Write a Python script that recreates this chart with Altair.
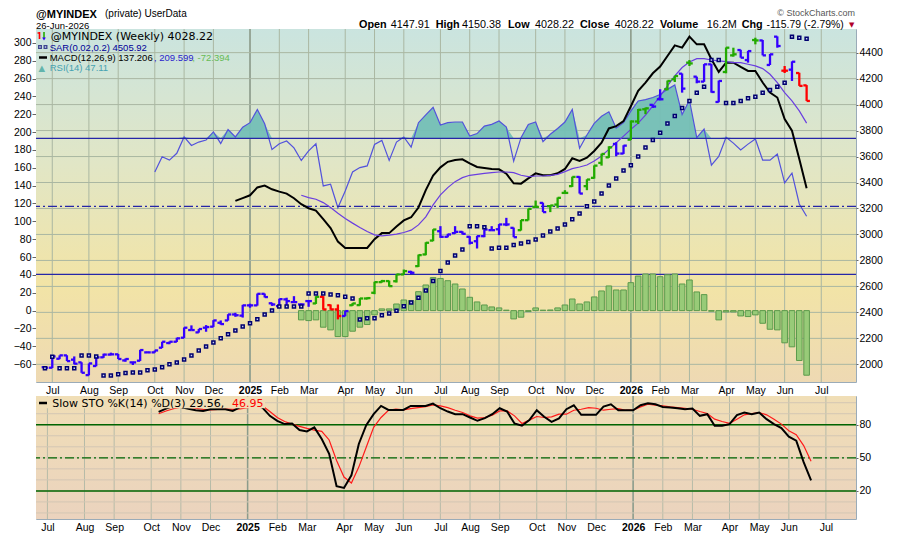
import altair as alt
import pandas as pd

# ---------------- data ----------------
week = list(range(105))
open_ = [1978,1974,2043,2069,2036,2015,1917,1987,2054,2075, 2077,2030,2015,2028,2092,2092,2128,2164,2174,2205,
         2264,2246,2282,2290,2320,2338,2384,2375,2454,2454, 2543,2470,2448,2500,2479,2461,2487,2469,2520,2456,
         2423,2372,2455,2456,2507,2551,2633,2641,2640,2692, 2712,2756,2846,2953,3025,2982,3010,3020,2982,2948,
         2987,3033,3040,3077,3051,3033,3110,3212,3243,3218, 3230,3320,3372,3443,3372,3436,3551,3594,3697,3623,
         3730,3870,3964,3998,4041,4118,4195,4238,4323,4215, 4177,4310,4020,4251,4379,4420,4343,4497,4494,4305,
         4523,4261,4269,4243,4148]
high = [1980,2063,2069,2070,2061,2016,2007,2069,2082,2090, 2080,2045,2020,2112,2098,2107,2174,2176,2205,2284,
        2300,2272,2302,2340,2338,2386,2397,2458,2467,2545, 2545,2475,2505,2513,2525,2469,2495,2525,2525,2461,
        2461,2412,2472,2510,2515,2636,2650,2645,2695,2730, 2720,2845,2940,3040,3064,3005,3064,3025,2987,2990,
        3040,3064,3080,3128,3053,3112,3199,3261,3245,3225, 3285,3341,3445,3448,3425,3532,3622,3679,3710,3687,
        3878,3966,3977,4000,4118,4185,4222,4240,4343,4215, 4312,4312,4185,4440,4438,4422,4414,4515,4497,4390,
        4525,4297,4333,4245,4150]
low = [1970,1972,2040,2025,2000,1935,1915,1985,2050,2070, 2041,2020,1995,2026,2088,2090,2126,2155,2172,2203,
       2262,2244,2251,2288,2305,2336,2366,2360,2436,2452, 2515,2450,2436,2436,2474,2436,2443,2465,2420,2420,
       2346,2370,2450,2452,2500,2540,2630,2598,2630,2690, 2695,2750,2840,2948,2974,2978,3005,3000,2923,2892,
       2979,3030,2995,3064,2979,3030,3108,3205,3172,3172, 3205,3315,3366,3315,3341,3430,3530,3590,3602,3620,
       3728,3850,3926,3975,4033,4110,4174,4092,4297,4164, 4175,4092,4018,4241,4369,4361,4323,4464,4379,4305,
       4438,4243,4182,4144,4028]
close = [1974,2061,2069,2025,2005,1935,2007,2054,2075,2077, 2041,2041,2015,2110,2092,2107,2174,2174,2200,2282,
         2264,2272,2287,2338,2310,2384,2378,2454,2454,2543, 2518,2461,2502,2487,2479,2461,2487,2520,2423,2423,
         2372,2410,2469,2507,2510,2633,2641,2602,2692,2718, 2705,2841,2936,3038,2982,3000,3020,3005,2936,2987,
         3038,3033,3077,3077,2979,3110,3197,3212,3172,3223, 3282,3320,3443,3315,3423,3530,3620,3671,3623,3684,
         3870,3960,3971,3985,4041,4182,4220,4123,4317,4177, 4310,4097,4182,4438,4387,4361,4412,4494,4379,4387,
         4451,4261,4330,4144,4028]
# Elder impulse colour of each bar: b = blue, g = green, r = red
impulse = list("bbbbbbbbbbbbbbbbbbbbbbbbbbbbbbbbbbbbbgrrrbggggggggbgggbbbbbbbbbbbgggbggggbggggbbgggbbggbgbbbbggbbgbbbrbrr")
sar = [1969,2059,1969,1969,1969,2069,2069,2061,1915,1915, 1923,1933,1938,1938,1954,1961,1977,2000,2015,2038,
       2069,2107,2138,2169,2200,2231,2261,2292,2316,2347, 2384,2415,2446,2446,2446,2446,2546,2546,2546,2538,
       2531,2520,2507,2346,2354,2354,2377,2391,2413,2447, 2476,2513,2569,2641,2718,2785,2838,2884,3064,3064,
       3056,2892,2897,2897,2918,2930,2941,2961,2992,3023, 3046,3077,3118,3161,3218,3254,3315,3377,3430,3492,
       3532,3600,3669,3728,3784,3854,3913,3974,4028,4092, 4138,4343,4343,4013,4013,4028,4049,4061,4092,4113,
       4138,4169,4523,4515,4506]

rsi_start = 15
rsi = [60.1,64.6,63.6,65.6,70.4,67.9,68.9,69.5,71.9,68.5, 72.6,70.4,73.3,74.6,78.5,74.3,66.7,68.4,69.2,67.2,
       63.5,66.3,68.4,56.0,56.5,49.6,54.5,60.1,61.4,61.9, 68.2,69.4,63.5,68.9,70.4,67.4,74.6,76.9,79.1,73.9,
       74.6,74.8,74.8,70.7,71.4,73.6,74.1,75.1,73.3,63.3, 70.2,74.1,74.8,69.0,71.2,72.9,74.8,78.5,67.1,71.0,
       74.4,76.5,77.8,73.0,74.6,78.0,81.0,81.4,82.0,82.9, 84.4,85.7,77.0,81.2,70.2,72.7,62.1,64.7,70.3,68.6,
       66.6,68.3,69.8,63.6,63.6,65.4,56.9,59.8,50.7,47.1]
macd_start = 26
macd = [122.9,126.0,129.2,138.0,140.0,135.9,133.3,131.1,125.9,119.2, 114.7,112.0,102.4,92.5,77.3,70.2,70.2,70.2,70.2,80.0,
        86.8,86.8,94.3,101.0,104.6,115.5,135.0,151.4,160.5,166.7, 168.7,169.5,165.0,160.9,159.8,158.7,158.3,153.4,142.6,142.2,
        148.2,153.8,151.6,151.6,153.8,158.7,170.6,167.6,171.3,178.8, 188.1,204.1,206.7,212.3,229.0,246.2,255.5,265.9,273.4,285.3,
        297.2,294.6,306.9,298.3,298.3,281.6,267.4,277.8,277.8,273.0, 268.5,268.5,255.5,244.3,238.7,214.5,201.5,169.8,137.2]
sig_start = 35
signal = [129.2,126.6,124.8,121.0,115.5,109.1,103.2,98.0,93.1,88.6, 84.9,83.8,84.5,85.7,87.5,90.1,96.0,105.0,118.4,129.6,
          137.8,144.5,149.0,151.6,152.7,153.8,154.6,155.3,155.3,154.6, 151.6,150.1,150.8,150.8,151.6,152.7,155.7,159.0,160.9,163.1,
          167.6,173.2,180.6,188.1,195.5,203.0,210.0,219.0,229.4,240.6, 251.8,262.9,272.3,278.6,282.3,282.3,280.8,279.7,279.0,277.8,
          277.8,276.0,274.1,271.1,264.8,255.5,244.3,235.0,223.8,210.1]
hist_start = 35
hist = [-10.4,-11.2,-10.4,-18.6,-21.6,-29.1,-29.1,-23.1,-18.6,-15.6, -4.8,1.9,1.9,7.4,11.9,11.2,21.2,28.7,37.0,36.0,
        33.5,29.8,24.2,14.9,9.7,6.3,4.1,3.0,0.5,-9.3, -7.4,-1.1,3.0,0.5,0.7,3.0,6.3,13.0,7.4,9.7,
        15.3,22.0,27.6,23.1,23.1,31.3,38.7,41.0,41.0,38.0, 40.2,41.0,29.8,34.3,20.9,17.9,-0.7,-10.4,-1.5,-1.5,
        -6.0,-6.7,-4.8,-14.2,-20.9,-21.6,-36.1,-40.6,-55.9,-72.4]
sto_start = 16
sto_k = [91.7,94.7,97.0,96.0,94.4,93.2,92.6,94.1,94.1,94.1, 92.6,96.0,97.0,97.5,95.6,88.1,83.6,80.6,81.2,75.2,
         74.0,77.6,67.1,53.6,24.2,22.7,34.1,62.6,79.7,89.6, 97.1,93.5,93.5,93.5,97.1,97.1,97.1,99.2,95.0,92.0,
         89.6,89.6,86.6,83.6,86.0,89.6,95.0,92.0,81.2,79.1, 84.2,93.2,87.2,82.7,85.7,94.1,97.7,89.0,89.0,89.0,
         96.5,98.6,93.2,93.2,93.2,97.7,99.5,98.6,96.2,95.6, 95.0,94.1,94.7,88.1,89.6,79.1,79.1,80.6,88.7,91.1,
         89.6,91.1,85.1,80.6,77.0,69.2,65.6,46.1,29.6]
sto_d = [90.0,92.5,94.5,96.0,96.0,95.0,94.0,93.5,94.0,94.5, 94.0,94.5,95.5,96.5,97.1,92.0,86.6,83.0,80.6,78.5,
         76.7,75.2,74.0,66.2,47.6,32.6,27.2,41.6,59.6,77.6, 86.6,93.2,94.1,93.5,94.7,95.6,96.5,98.0,97.1,95.6,
         93.2,91.1,88.1,86.0,86.6,88.7,92.6,92.6,88.1,81.2, 84.2,87.5,86.6,87.2,89.6,89.6,93.2,94.1,95.6,95.0,
         93.2,94.1,94.7,93.2,93.2,96.2,98.6,97.7,97.1,96.2, 95.6,95.0,94.1,92.0,90.2,85.1,83.0,81.2,85.1,89.0,
         90.2,91.1,89.0,85.1,80.6,74.6,71.0,61.1,47.0]

tick_idx = [1, 6, 10, 15, 19, 23, 28, 32, 36, 41, 45, 49, 54, 58, 62, 67, 71, 75, 80, 84, 88, 93, 97, 101, 106]
tick_lab = ['Jul', 'Aug', 'Sep', 'Oct', 'Nov', 'Dec', '2025', 'Feb', 'Mar', 'Apr', 'May', 'Jun', 'Jul',
            'Aug', 'Sep', 'Oct', 'Nov', 'Dec', '2026', 'Feb', 'Mar', 'Apr', 'May', 'Jun', 'Jul']
year_idx = [28, 80]
left_ticks = [-60, -40, -20, 0, 20, 40, 60, 80, 100, 120, 140, 160, 180, 200, 220, 240, 260, 280, 300]
price_ticks = [2000, 2200, 2400, 2600, 2800, 3000, 3200, 3400, 3600, 3800, 4000, 4200, 4400]
rsi_levels = [70, 50, 30]
sto_levels = [80, 50, 20]
sto_grid = [0, 10, 20, 30, 40, 50, 60, 70, 80, 90, 100]

# ---------------- tables ----------------
price_df = pd.DataFrame({'i': week, 'open': open_, 'high': high, 'low': low,
                         'close': close, 'imp': impulse, 'sar': sar})
rsi_df = pd.DataFrame({'i': week[rsi_start:], 'rsi': rsi})
macd_df = pd.DataFrame({'i': week[macd_start:], 'macd': macd})
sig_df = pd.DataFrame({'i': week[sig_start:], 'signal': signal})
hist_df = pd.DataFrame({'i': week[hist_start:], 'hist': hist})
sto_df = pd.DataFrame({'i': week[sto_start:], 'k': sto_k, 'd': sto_d})
tick_df = pd.DataFrame({'i': tick_idx})
year_df = pd.DataFrame({'i': year_idx})
pgrid_df = pd.DataFrame({'p': price_ticks})
rlev_df = pd.DataFrame({'r': rsi_levels})
slev_df = pd.DataFrame({'s': sto_levels})
sgrid_df = pd.DataFrame({'s': sto_grid})
one = pd.DataFrame({'k': [0]})

# ---------------- geometry / style ----------------
W, H1, H2 = 820, 353, 123
XS = alt.Scale(domain=[-0.54, 110.06], nice=False, zero=False)
YL = alt.Scale(domain=[-80.0, 315.5], nice=False, zero=False)
YR = alt.Scale(domain=[1864, 4582], nice=False, zero=False)
YS = alt.Scale(domain=[-5.5, 106.1], nice=False, zero=False)
RSI_MID, RSI_K = 116.8, 3.81          # RSI drawn on the left scale
P2L = "(-80 + (datum.p - 1864) * 395.5 / 2718)"   # price grid -> left units

FONT = 'Liberation Sans'
lab_expr = ("[" + ",".join("'%s'" % l for l in tick_lab) + "][indexof(["
            + ",".join(str(v) for v in tick_idx) + "], datum.value)]")
bold_test = "indexof([" + ",".join(str(v) for v in year_idx) + "], datum.value) >= 0"

AX_X = alt.Axis(values=tick_idx, labelExpr=lab_expr, grid=False, ticks=False, domain=False,
                labelPadding=3, labelFontSize=10.5, labelFont=FONT, labelColor='black',
                labelFontWeight={'condition': {'test': bold_test, 'value': 'bold'}, 'value': 'normal'},
                labelOverlap=False, labelFlush=False, labelBound=False, title=None)
AX_L = alt.Axis(values=left_ticks, orient='left', grid=False, tickSize=4, tickColor='#666',
                domain=False, labelPadding=1, labelFontSize=10.5, labelFont=FONT, format='d',
                labelOverlap=False, labelFlush=False, title=None)
AX_R = alt.Axis(values=price_ticks, orient='right', grid=False, tickSize=2, tickColor='#666',
                domain=False, labelPadding=1, labelFontSize=10.5, labelFont=FONT, format='d',
                labelOverlap=False, labelFlush=False, title=None)
AX_S = alt.Axis(values=sto_levels, orient='right', grid=False, tickSize=2, tickColor='#666',
                domain=False, labelPadding=1, labelFontSize=10.5, labelFont=FONT, format='d',
                labelOverlap=False, labelFlush=False, title=None)


def X(f):
    return alt.X(f + ':Q', scale=XS, axis=AX_X)


def YLf(f):
    return alt.Y(f + ':Q', scale=YL, axis=AX_L)


def YRf(f):
    return alt.Y(f + ':Q', scale=YR, axis=AX_R)


def YSf(f):
    return alt.Y(f + ':Q', scale=YS, axis=AX_S)


def grad(stops):
    return alt.LinearGradient(gradient='linear', x1=0, x2=0, y1=0, y2=1,
                              stops=[alt.GradientStop(offset=o, color=c) for o, c in stops])


def txt(s, x, y, size=11, color='black', weight='normal', font=FONT, align='left', baseline='alphabetic'):
    return alt.Chart(one).mark_text(text=s, fontSize=size, color=color, fontWeight=weight, font=font,
                                    align=align, baseline=baseline).encode(x=alt.value(x), y=alt.value(y))


def seg(x1, x2, y1, y2, color, width):
    return alt.Chart(one).mark_rule(color=color, strokeWidth=width).encode(
        x=alt.value(x1), x2=alt.value(x2), y=alt.value(y1), y2=alt.value(y2))


GRID = '#aab7a2'
BLUE, GREEN, RED = '#3300ff', '#22aa00', '#ff0000'

# ---------------- main panel: indicator layers (left scale) ----------------
bg = alt.Chart(one).mark_rect(fill=grad([(0, '#cae4df'), (0.38, '#e1e6c6'), (0.72, '#f2e4a6'), (1, '#eed9b3')])).encode(
    x=alt.value(0), x2=alt.value(W), y=alt.value(0), y2=alt.value(H1))
vgrid = alt.Chart(tick_df).mark_rule(color=GRID, strokeWidth=1).encode(x=X('i'))
ygrid = alt.Chart(year_df).mark_rule(color='#8c9c8c', strokeWidth=1.5).encode(x=X('i'))
hgrid = alt.Chart(pgrid_df).transform_calculate(yl=P2L).mark_rule(color=GRID, strokeWidth=1).encode(y=YLf('yl'))

rsi_area = alt.Chart(rsi_df).transform_calculate(
    top="%f + (max(datum.rsi, 70) - 50) * %f" % (RSI_MID, RSI_K),
    base="%f + 20 * %f" % (RSI_MID, RSI_K)
).mark_area(color='#74bfb6', opacity=0.95).encode(x=X('i'), y=YLf('top'), y2='base:Q')
rsi_line = alt.Chart(rsi_df).transform_calculate(
    rv="%f + (datum.rsi - 50) * %f" % (RSI_MID, RSI_K)
).mark_line(color='#5252dc', strokeWidth=1.2).encode(x=X('i'), y=YLf('rv'))
rlev_solid = alt.Chart(rlev_df).transform_filter('datum.r != 50').transform_calculate(
    rv="%f + (datum.r - 50) * %f" % (RSI_MID, RSI_K)
).mark_rule(color='#2626a8', strokeWidth=1.2).encode(y=YLf('rv'))
rlev_dash = alt.Chart(rlev_df).transform_filter('datum.r == 50').transform_calculate(
    rv="%f + (datum.r - 50) * %f" % (RSI_MID, RSI_K)
).mark_rule(color='#2626a8', strokeWidth=1.2, strokeDash=[9, 3, 2, 3]).encode(y=YLf('rv'))

histo = alt.Chart(hist_df).transform_calculate(zero='0').mark_bar(
    size=5.6, fill='#98cb78', stroke='#5c9a4c', strokeWidth=1).encode(x=X('i'), y=YLf('hist'), y2='zero:Q')
macd_line = alt.Chart(macd_df).mark_line(color='black', strokeWidth=2).encode(x=X('i'), y=YLf('macd'))
sig_line = alt.Chart(sig_df).mark_line(color='#6a3ee0', strokeWidth=1.2).encode(x=X('i'), y=YLf('signal'))

left_group = alt.layer(bg, vgrid, ygrid, hgrid, rsi_area, rsi_line, rlev_solid, rlev_dash,
                       histo, macd_line, sig_line)

# ---------------- main panel: price layers (right scale) ----------------
CLR = alt.Color('imp:N', scale=alt.Scale(domain=['b', 'g', 'r'], range=[BLUE, GREEN, RED]), legend=None)
bar_hl = alt.Chart(price_df).mark_rule(strokeWidth=2.3).encode(x=X('i'), y=YRf('low'), y2='high:Q', color=CLR)
bar_o = alt.Chart(price_df).transform_calculate(xl='datum.i - 0.45').mark_rule(strokeWidth=2.3).encode(
    x=X('xl'), x2='i:Q', y=YRf('open'), color=CLR)
bar_c = alt.Chart(price_df).transform_calculate(xr='datum.i + 0.45').mark_rule(strokeWidth=2.3).encode(
    x=X('i'), x2='xr:Q', y=YRf('close'), color=CLR)
sar_pts = alt.Chart(price_df).mark_square(size=9, fill='#c9d2f2', stroke='#000070', strokeWidth=1.5,
                                          opacity=1).encode(x=X('i'), y=YRf('sar'))
right_group = alt.layer(bar_hl, bar_o, bar_c, sar_pts)

# ---------------- main panel texts / legend ----------------
texts = [
    txt('@MYINDEX', 0, -20, size=11, weight='bold', baseline='top'),
    txt('(private) UserData', 69, -20, size=10, baseline='top'),
    txt('26-Jun-2026', 0, 0, size=9.5),
    txt('Open', 323, -1, size=10.8, weight='bold'), txt('4147.91', 354.7, -1, size=10.8),
    txt('High', 399.7, -1, size=10.8, weight='bold'), txt('4150.38', 426, -1, size=10.8),
    txt('Low', 472, -1, size=10.8, weight='bold'), txt('4028.22', 499, -1, size=10.8),
    txt('Close', 544, -1, size=10.8, weight='bold'), txt('4028.22', 578.7, -1, size=10.8),
    txt('Volume', 624, -1, size=10.8, weight='bold'), txt('16.2M', 670.7, -1, size=10.8),
    txt('Chg', 705.7, -1, size=10.8, weight='bold'), txt('-115.79 (-2.79%)', 730.5, -1, size=10.4),
    txt('\u25bc', 813, -2.5, size=7, color='#b0002a', font='DejaVu Sans'),
    txt('\u00a9 StockCharts.com', 819, -20, size=9, color='#555555', align='right', baseline='top'),
    txt('@MYINDEX (Weekly) 4028.22', 14.7, 11.3, size=11, font='DejaVu Sans'),
    txt('SAR(0.02,0.2) 4505.92', 13.7, 22, size=9.5, color='#000099'),
    txt('MACD(12,26,9) 137.206', 13.7, 32, size=9.5),
    txt(', 209.599', 118, 32, size=9.5, color='#2a22cc'),
    txt(', -72.394', 156.3, 32, size=9.5, color='#66bb55'),
    txt('\u25b2', 2.5, 42, size=8.5, color='#62b4ac', font='DejaVu Sans'),
    txt('RSI(14) 47.11', 13.7, 42, size=9.5, color='#46a2b2'),
]
icons = [
    seg(3.5, 3.5, 3, 10, RED, 1.6), seg(1.5, 3.5, 4, 4, RED, 1.4),
    seg(8, 8, 3, 9, GREEN, 1.6),
    alt.Chart(one).mark_point(shape='triangle-down', filled=True, size=14, color=BLUE, opacity=1).encode(
        x=alt.value(8), y=alt.value(10)),
    alt.Chart(pd.DataFrame({'ix': [4.0, 9.5]})).mark_square(
        size=7, fill='#c9d2f2', stroke='#000070', strokeWidth=1.3).encode(
        x=alt.X('ix:Q', scale=None), y=alt.value(18)),
    seg(3, 11, 28.5, 28.5, 'black', 2.5),
]

main = alt.layer(left_group, right_group, *icons, *texts).resolve_scale(
    y='independent').properties(width=W, height=H1)

# ---------------- bottom panel: slow stochastic ----------------
bg2 = alt.Chart(one).mark_rect(fill=grad([(0, '#f0deb6'), (1, '#ebd3be')])).encode(
    x=alt.value(0), x2=alt.value(W), y=alt.value(0), y2=alt.value(H2))
vgrid2 = alt.Chart(tick_df).mark_rule(color='#b6bba8', strokeWidth=1).encode(x=X('i'))
ygrid2 = alt.Chart(year_df).mark_rule(color='#8c9c8c', strokeWidth=1.5).encode(x=X('i'))
hgrid2 = alt.Chart(sgrid_df).mark_rule(color='#d3c6b4', strokeWidth=1).encode(y=YSf('s'))
slev_solid = alt.Chart(slev_df).transform_filter('datum.s != 50').mark_rule(
    color='#006400', strokeWidth=1.5).encode(y=YSf('s'))
slev_dash = alt.Chart(slev_df).transform_filter('datum.s == 50').mark_rule(
    color='#006400', strokeWidth=1.2, strokeDash=[9, 3, 2, 3]).encode(y=YSf('s'))
d_line = alt.Chart(sto_df).mark_line(color='#ff1a1a', strokeWidth=1.2).encode(x=X('i'), y=YSf('d'))
k_line = alt.Chart(sto_df).mark_line(color='black', strokeWidth=2).encode(x=X('i'), y=YSf('k'))
leg_box = alt.Chart(one).mark_rect(fill='#f0deb6').encode(
    x=alt.value(0.5), x2=alt.value(229), y=alt.value(0.5), y2=alt.value(12.3))
leg_icon = seg(3, 11, 7, 7, 'black', 2.5)
leg_t1 = txt('Slow STO %K(14) %D(3) 29.56,', 16.3, 11, size=11, font='DejaVu Sans')
leg_t2 = txt('46.95', 196, 11, size=11, color='#ff0000', font='DejaVu Sans')

bottom = alt.layer(bg2, vgrid2, ygrid2, hgrid2, slev_solid, slev_dash, d_line, k_line,
                   leg_box, leg_icon, leg_t1, leg_t2).properties(width=W, height=H2)

chart = alt.vconcat(main, bottom, spacing=-2).properties(
    padding={'left': 4, 'top': 0, 'right': 0, 'bottom': 0}
).configure_view(stroke='#9aabb8', strokeWidth=1)

chart.save('out.html', embed_options={'renderer': 'svg', 'actions': False})
